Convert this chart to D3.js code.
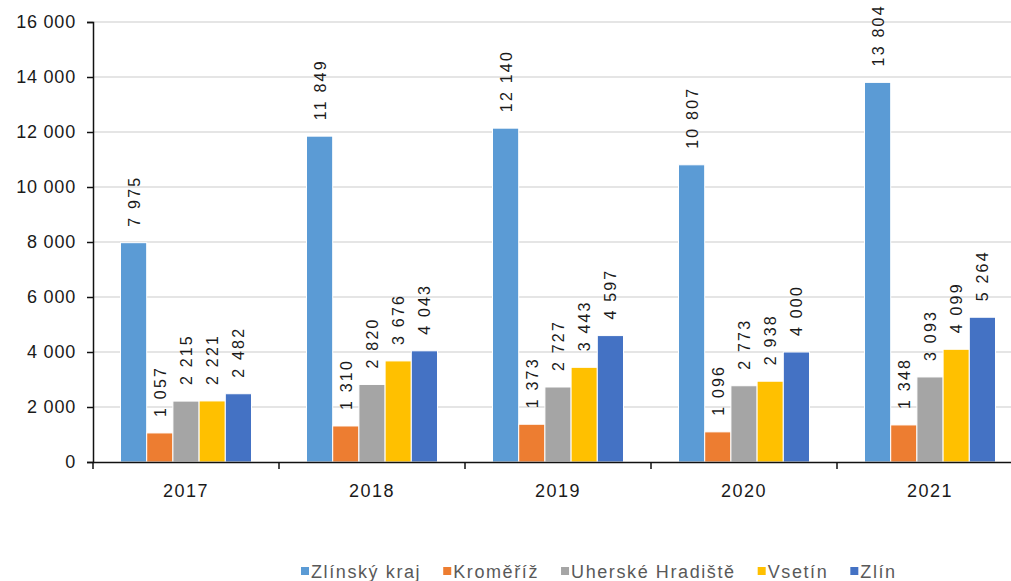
<!DOCTYPE html>
<html>
<head>
<meta charset="utf-8">
<title>Zlínský kraj</title>
<script src="https://cdn.jsdelivr.net/npm/d3@7"></script>
<style>
    body { margin: 0; background: #fff; font-family: "Liberation Sans", Arial, sans-serif; }
    svg { display: block; }
</style>
</head>
<body>
<script>
    var years = ["2017", "2018", "2019", "2020", "2021"];
    var seriesNames = ["Zlínský kraj", "Kroměříž", "Uherské Hradiště", "Vsetín", "Zlín"];
    var colors = ["#5b9bd5", "#ed7d31", "#a5a5a5", "#ffc000", "#4472c4"];
    var zlinskyKraj = [7975, 11849, 12140, 10807, 13804];
    var kromeriz = [1057, 1310, 1373, 1096, 1348];
    var uherskeHradiste = [2215, 2820, 2727, 2773, 3093];
    var vsetin = [2221, 3676, 3443, 2938, 4099];
    var zlin = [2482, 4043, 4597, 4000, 5264];
    var yTicks = [0, 2000, 4000, 6000, 8000, 10000, 12000, 14000, 16000];

    var series = [zlinskyKraj, kromeriz, uherskeHradiste, vsetin, zlin];
    var width = 1011, height = 581;
    var plotLeft = 93, plotTop = 22, plotBottom = 462;

    var fmt = function (v) {
        return d3.format(",")(v).replace(/,/g, " ");
    };

    var svg = d3.select("body").append("svg")
        .attr("width", width)
        .attr("height", height);

    var x = d3.scaleBand().domain(years).range([plotLeft, plotLeft + 5 * 186]).paddingInner(0).paddingOuter(0);
    var x1 = d3.scaleBand().domain(d3.range(seriesNames.length))
        .range([0, x.bandwidth()]).paddingOuter(1.05).paddingInner(0);
    var y = d3.scaleLinear().domain([0, 16000]).range([plotBottom, plotTop]);

    // gridlines
    svg.append("g").selectAll("line")
        .data(yTicks.slice(1))
        .enter().append("line")
        .attr("x1", plotLeft).attr("x2", width)
        .attr("y1", function (d) { return y(d); })
        .attr("y2", function (d) { return y(d); })
        .attr("stroke", "#dcdcdc")
        .attr("stroke-width", 1.5);

    // bars
    var groups = svg.append("g").selectAll("g")
        .data(years)
        .enter().append("g")
        .attr("transform", function (d) { return "translate(" + x(d) + ",0)"; });

    groups.selectAll("rect")
        .data(function (d, i) {
            return series.map(function (s, k) { return { k: k, v: s[i] }; });
        })
        .enter().append("rect")
        .attr("x", function (d) { return x1(d.k); })
        .attr("width", x1.bandwidth())
        .attr("y", function (d) { return y(d.v); })
        .attr("height", function (d) { return plotBottom - y(d.v); })
        .attr("fill", function (d) { return colors[d.k]; })
        .attr("stroke", "#fff")
        .attr("stroke-width", 1);

    // value labels
    groups.selectAll("text")
        .data(function (d, i) {
            return series.map(function (s, k) { return { k: k, v: s[i] }; });
        })
        .enter().append("text")
        .attr("font-size", 16)
        .attr("letter-spacing", "2.2px")
        .attr("fill", "#1a1a1a")
        .text(function (d) { return fmt(d.v); })
        .each(function (d) {
            var len = this.getBBox().width;
            var start = y(d.v) - 16;
            if (start - len < 4) start = 4 + len;
            var cx = x1(d.k) + x1.bandwidth() / 2 + 6;
            d3.select(this).attr("transform", "translate(" + cx + "," + start + ") rotate(-90)");
        });

    // y axis
    var yAxis = svg.append("g")
        .attr("transform", "translate(" + plotLeft + ",0)")
        .call(d3.axisLeft(y).tickValues(yTicks).tickSize(6).tickPadding(11).tickFormat(fmt));
    yAxis.select(".domain").attr("stroke", "#111").attr("stroke-width", 1.5);
    yAxis.selectAll(".tick line").attr("stroke", "#111").attr("stroke-width", 1.5);
    yAxis.selectAll("text")
        .attr("font-family", "Liberation Sans, Arial, sans-serif")
        .attr("font-size", 18)
        .attr("letter-spacing", "0.8px")
        .attr("fill", "#1a1a1a");

    // x axis
    var xAxis = svg.append("g")
        .attr("transform", "translate(0," + plotBottom + ")")
        .call(d3.axisBottom(x).tickSize(0).tickPadding(22));
    xAxis.select(".domain").attr("stroke", "#111").attr("stroke-width", 1.5);
    xAxis.selectAll("text")
        .attr("font-family", "Liberation Sans, Arial, sans-serif")
        .attr("font-size", 18)
        .attr("letter-spacing", "1.5px")
        .attr("fill", "#1a1a1a");
    xAxis.selectAll(".sep")
        .data(years)
        .enter().append("line")
        .attr("class", "sep")
        .attr("x1", function (d) { return x(d); })
        .attr("x2", function (d) { return x(d); })
        .attr("y1", 0).attr("y2", 7)
        .attr("stroke", "#111").attr("stroke-width", 1.5);

    // legend
    var legend = svg.append("g").attr("transform", "translate(301,578)");
    var lx = 0;
    seriesNames.forEach(function (name, k) {
        legend.append("rect")
            .attr("x", lx).attr("y", -11)
            .attr("width", 8).attr("height", 8)
            .attr("fill", colors[k]);
        var t = legend.append("text")
            .attr("x", lx + 10).attr("y", 0)
            .attr("font-size", 18)
            .attr("letter-spacing", "1.6px")
            .attr("fill", "#595959")
            .text(name);
        lx += 10 + t.node().getBBox().width + 22;
    });
</script>
</body>
</html>
